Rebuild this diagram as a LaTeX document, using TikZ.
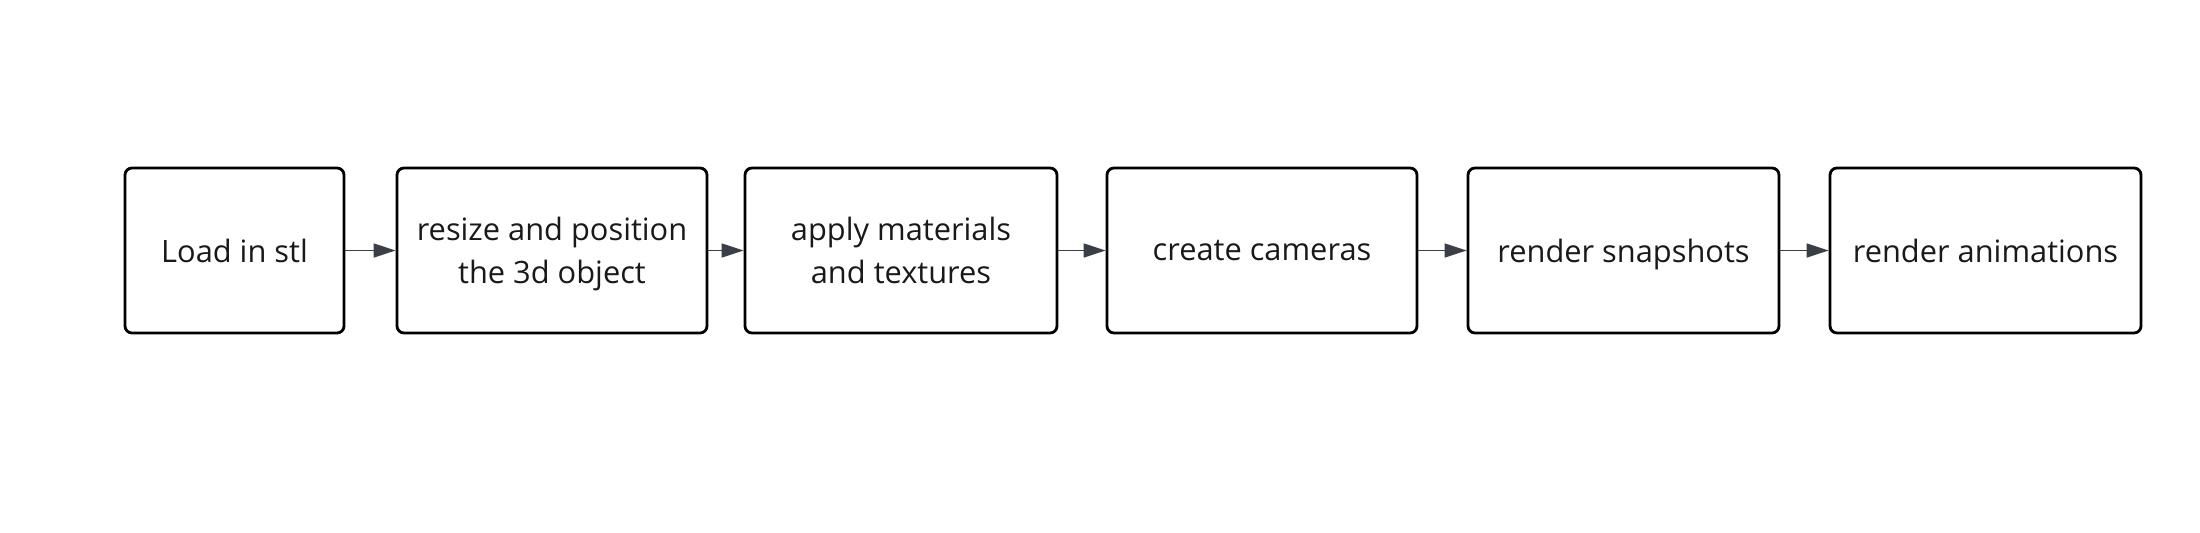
\documentclass[tikz,border=0pt]{standalone}
\usepackage{fontspec}
\setmainfont{Open Sans}
\usetikzlibrary{arrows.meta}
\definecolor{arrowgray}{HTML}{3A3F47}
\begin{document}
\begin{tikzpicture}[x=0.5pt,y=-0.5pt,
  stepbox/.style={draw=black, line width=1.4pt, rounded corners=3.5pt, fill=white,
    minimum height=82.5pt, align=center, inner sep=0pt, text depth=0em,
    font=\fontsize{15.4pt}{21.7pt}\selectfont, text=black!90},
  oneline/.style={text depth=-0.4em},
  conn/.style={draw=arrowgray, line width=0.75pt, -{Triangle[length=11pt,width=7pt]}}]
\useasboundingbox (0,0) rectangle (2200,532);
\node[stepbox, oneline, minimum width=109.5pt] (a) at (234.5,250.5) {Load in stl};
\node[stepbox, minimum width=155pt] (b) at (552,250.5) {resize and position\\the 3d object};
\node[stepbox, minimum width=156pt] (c) at (901,250.5) {apply materials\\and textures};
\node[stepbox, oneline, minimum width=155pt] (d) at (1262,250.5) {create cameras};
\node[stepbox, oneline, minimum width=155.5pt] (e) at (1623.5,250.5) {render snapshots};
\node[stepbox, oneline, minimum width=155.5pt] (f) at (1985.5,250.5) {render animations};
\draw[conn] (a) -- (b);
\draw[conn] (b) -- (c);
\draw[conn] (c) -- (d);
\draw[conn] (d) -- (e);
\draw[conn] (e) -- (f);
\end{tikzpicture}
\end{document}
